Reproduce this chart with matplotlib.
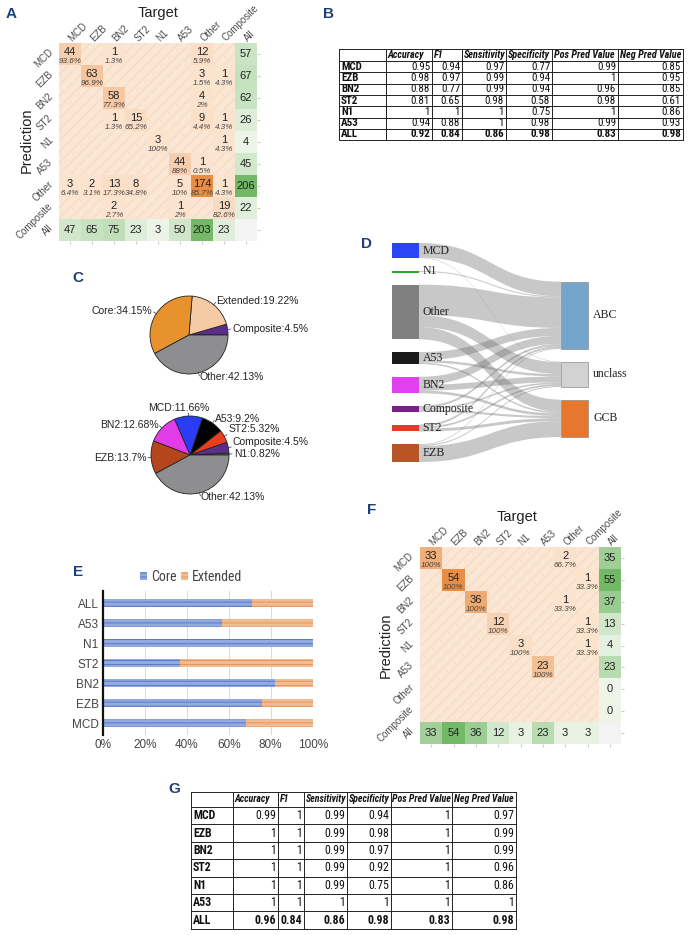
import numpy as np
import matplotlib
matplotlib.use('Agg')
import matplotlib.pyplot as plt
from matplotlib.patches import Rectangle, PathPatch, Patch
from matplotlib.path import Path
from matplotlib.colors import LinearSegmentedColormap, Normalize
from matplotlib import font_manager
from matplotlib.font_manager import FontProperties

# ---- data ----
classes = ['MCD', 'EZB', 'BN2', 'ST2', 'N1', 'A53', 'Other', 'Composite']

# rows = prediction, cols = target
conf_a = np.array([
    [44, 0, 1, 0, 0, 0, 12, 0],
    [0, 63, 0, 0, 0, 0, 3, 1],
    [0, 0, 58, 0, 0, 0, 4, 0],
    [0, 0, 1, 15, 0, 0, 9, 1],
    [0, 0, 0, 0, 3, 0, 0, 1],
    [0, 0, 0, 0, 0, 44, 1, 0],
    [3, 2, 13, 8, 0, 5, 174, 1],
    [0, 0, 2, 0, 0, 1, 0, 19],
])
conf_f = np.array([
    [33, 0, 0, 0, 0, 0, 2, 0],
    [0, 54, 0, 0, 0, 0, 0, 1],
    [0, 0, 36, 0, 0, 0, 1, 0],
    [0, 0, 0, 12, 0, 0, 0, 1],
    [0, 0, 0, 0, 3, 0, 0, 1],
    [0, 0, 0, 0, 0, 23, 0, 0],
    [0, 0, 0, 0, 0, 0, 0, 0],
    [0, 0, 0, 0, 0, 0, 0, 0],
])

metric_cols = ['Accuracy', 'F1', 'Sensitivity', 'Specificity', 'Pos Pred Value', 'Neg Pred Value']
metric_rows = ['MCD', 'EZB', 'BN2', 'ST2', 'N1', 'A53', 'ALL']
metrics_b = [
    [0.95, 0.94, 0.97, 0.77, 0.99, 0.85],
    [0.98, 0.97, 0.99, 0.94, 1, 0.95],
    [0.88, 0.77, 0.99, 0.94, 0.96, 0.85],
    [0.81, 0.65, 0.98, 0.58, 0.98, 0.61],
    [1, 1, 1, 0.75, 1, 0.86],
    [0.94, 0.88, 1, 0.98, 0.99, 0.93],
    [0.92, 0.84, 0.86, 0.98, 0.83, 0.98],
]
metrics_g = [
    [0.99, 1, 0.99, 0.94, 1, 0.97],
    [1, 1, 0.99, 0.98, 1, 0.99],
    [1, 1, 0.99, 0.97, 1, 0.99],
    [1, 1, 0.99, 0.92, 1, 0.96],
    [1, 1, 0.99, 0.75, 1, 0.86],
    [1, 1, 1, 1, 1, 1],
    [0.96, 0.84, 0.86, 0.98, 0.83, 0.98],
]

pie_top_labels = ['Composite', 'Extended', 'Core', 'Other']
pie_top_values = [4.5, 19.22, 34.15, 42.13]
pie_top_colors = ['#5c2e8c', '#f6caa4', '#e8922e', '#8e8e90']

pie_bot_labels = ['N1', 'Composite', 'ST2', 'A53', 'MCD', 'BN2', 'EZB', 'Other']
pie_bot_values = [0.82, 4.5, 5.32, 9.2, 11.66, 12.68, 13.7, 42.13]
pie_bot_colors = ['#2e9a2e', '#5c2e8c', '#e8401e', '#000000', '#2a3cf5', '#e23ce8', '#b5461c', '#8e8e90']
pie_bot_nudge = [0.0, 0.12, 0.12, 0.0, 0.0, 0.0, 0.0, 0.0]

sankey_src = ['MCD', 'N1', 'Other', 'A53', 'BN2', 'Composite', 'ST2', 'EZB']
sankey_src_colors = ['#2b44f5', '#2ea82a', '#808080', '#1a1a1a', '#e040f0', '#7a1f8a', '#e53a2a', '#b85526']
sankey_dst = ['ABC', 'unclass', 'GCB']
sankey_dst_colors = ['#76a5cb', '#d2d2d2', '#e8772e']
sankey_flows = np.array([
    [55, 2, 0],
    [4, 0, 0],
    [115, 45, 46],
    [30, 9, 6],
    [30, 22, 10],
    [8, 6, 8],
    [8, 7, 11],
    [3, 4, 60],
])

bar_cats = ['MCD', 'EZB', 'BN2', 'ST2', 'N1', 'A53', 'ALL']
core_pct = [68, 76, 82, 37, 100, 57, 71]

# ---- fonts / figure ----
plt.rcParams['font.family'] = ['Liberation Sans', 'DejaVu Sans']
plt.rcParams['hatch.linewidth'] = 0.6

# condensed sans (Arial Narrow look) for tables and legend, picked by file so bold works
cands = {}
for f in font_manager.fontManager.ttflist:
    if not ('Narrow' in f.name or 'Condensed' in f.name
            or f.stretch in ('condensed', 'semi-condensed', 'extra-condensed')):
        continue
    w = f.weight if isinstance(f.weight, int) else font_manager.weight_dict.get(f.weight, 400)
    if 600 <= w <= 800:
        wk = 'bold'
    elif 350 <= w < 600:
        wk = 'normal'
    else:
        continue
    sk = 'italic' if f.style in ('italic', 'oblique') else 'normal'
    cands.setdefault(f.name, {}).setdefault((wk, sk), f.fname)

narrow_files, narrow_scale = {}, 0.84
usable = [n for n, d in cands.items() if ('normal', 'normal') in d and ('bold', 'normal') in d]
for pref in ['Liberation Sans Narrow', 'Arial Narrow', 'Roboto Condensed', 'Noto Sans Condensed',
             'Open Sans Condensed', 'DejaVu Sans Condensed', 'DejaVu Sans']:
    if pref in usable:
        narrow_files = cands[pref]
        narrow_scale = 1.0 if pref in ('Liberation Sans Narrow', 'Arial Narrow', 'Roboto Condensed') else 0.9
        break
else:
    if usable:
        narrow_files, narrow_scale = cands[usable[0]], 0.95


def nfont(weight='normal', style='normal'):
    key = (weight, style)
    if key not in narrow_files and (weight, 'normal') in narrow_files:
        key = (weight, 'normal')
    if key in narrow_files:
        return FontProperties(fname=narrow_files[key]), narrow_scale
    return FontProperties(family='Liberation Sans', weight=weight, style=style), 0.84


W, H = 691, 935
fig = plt.figure(figsize=(W / 100, H / 100), dpi=100)
LETTER = '#1f3f7a'


def px_axes(x0, y0, x1, y1):
    return fig.add_axes([x0 / W, 1 - y1 / H, (x1 - x0) / W, (y1 - y0) / H])


def letter(x, y, s):
    fig.text(x / W, 1 - y / H, s, fontsize=11, fontweight='bold', color=LETTER,
             ha='center', va='center')


def fmt_pct(c, tot):
    s = f'{100 * c / tot:.1f}'
    if s.endswith('.0'):
        s = s[:-2]
    return s + '%'


oranges = LinearSegmentedColormap.from_list('or', ['#fbe4d0', '#e88d45'])
greens = LinearSegmentedColormap.from_list('gr', ['#edf5e9', '#72b866'])


def confusion_panel(rect, counts):
    n = len(classes)
    ax = px_axes(*rect)
    row_tot = counts.sum(1)
    col_tot = counts.sum(0)
    ax.set_xlim(0, n + 1)
    ax.set_ylim(n + 1, 0)
    ax.add_patch(Rectangle((0, 0), n, n, facecolor='#fbe6d4', edgecolor='#f1d8c3',
                           hatch='///', lw=0, zorder=0))
    ax.add_patch(Rectangle((n, n), 1, 1, facecolor='#f3f3f3', lw=0, zorder=0))
    body = np.ma.masked_equal(counts, 0)
    ax.pcolormesh(np.arange(n + 1), np.arange(n + 1), body, cmap=oranges,
                  norm=Normalize(0, counts.max()), zorder=1)
    tot = np.full((n + 1, n + 1), np.nan)
    tot[:n, n] = row_tot
    tot[n, :n] = col_tot
    ax.pcolormesh(np.arange(n + 2), np.arange(n + 2), np.ma.masked_invalid(tot),
                  cmap=greens, norm=Normalize(0, max(row_tot.max(), col_tot.max())), zorder=1)
    for i in range(n):
        for j in range(n):
            c = counts[i, j]
            if c:
                ax.text(j + 0.5, i + 0.42, str(c), ha='center', va='center', fontsize=8, color='#222')
                ax.text(j + 0.5, i + 0.86, fmt_pct(c, col_tot[j]), ha='center', va='center',
                        fontsize=5.8, style='italic', color='#444')
        ax.text(n + 0.5, i + 0.5, str(row_tot[i]), ha='center', va='center', fontsize=8, color='#222')
        ax.text(i + 0.5, n + 0.5, str(col_tot[i]), ha='center', va='center', fontsize=8, color='#222')
    labels = classes + ['All']
    for k, lab in enumerate(labels):
        ax.text(k + 0.5, -0.15, lab, rotation=45, rotation_mode='anchor', ha='left',
                va='center', fontsize=7, color='#4d4d4d')
        ax.text(-0.35, k + 0.35, lab, rotation=45, rotation_mode='anchor', ha='right',
                va='center', fontsize=7, color='#4d4d4d')
    ax.set_xticks(np.arange(n + 1) + 0.5)
    ax.set_yticks(np.arange(n + 1) + 0.5)
    ax.tick_params(labelbottom=False, labelleft=False, left=False, right=True,
                   length=2, color='#cccccc')
    for s in ax.spines.values():
        s.set_visible(False)
    return ax


def draw_table(x0, y0, col_w, header_h, row_h, values, fs_head, fs):
    tw = sum(col_w)
    th = header_h + row_h * len(metric_rows)
    ax = px_axes(x0, y0, x0 + tw, y0 + th)
    ax.set_xlim(0, tw)
    ax.set_ylim(th, 0)
    ax.axis('off')
    edges = np.concatenate([[0], np.cumsum(col_w)])
    for x in edges:
        ax.plot([x, x], [0, th], color='#222', lw=0.7, clip_on=False)
    ys = [0, header_h] + [header_h + row_h * (k + 1) for k in range(len(metric_rows))]
    for y in ys:
        ax.plot([0, tw], [y, y], color='#222', lw=0.7, clip_on=False)
    fp_head, sc_head = nfont('bold', 'italic')
    fp_bold, sc_bold = nfont('bold')
    fp_reg, sc_reg = nfont('normal')
    for c, name in enumerate(metric_cols):
        ax.text(edges[c + 1] + 1.5, header_h / 2, name, ha='left', va='center',
                fontproperties=fp_head, fontsize=fs_head * sc_head, color='#111')
    for r, name in enumerate(metric_rows):
        yc = header_h + row_h * (r + 0.5)
        ax.text(2, yc, name, ha='left', va='center', fontproperties=fp_bold,
                fontsize=fs * sc_bold, color='#111')
        fp, sc = (fp_bold, sc_bold) if name == 'ALL' else (fp_reg, sc_reg)
        for c, v in enumerate(values[r]):
            ax.text(edges[c + 2] - 2, yc, f'{v:g}', ha='right', va='center',
                    fontproperties=fp, fontsize=fs * max(sc, 0.92), color='#111')


def draw_pie(cx, cy, r, values, labels, colors, nudge):
    ax = px_axes(cx - r, cy - r, cx + r, cy + r)
    ax.pie(values, colors=colors, startangle=0, counterclock=True, radius=1,
           wedgeprops=dict(edgecolor='#222', linewidth=0.6))
    ax.set_xlim(-1, 1)
    ax.set_ylim(-1, 1)
    ax.set_aspect('equal')
    ang0 = 0
    for v, lab, nd in zip(values, labels, nudge):
        mid = np.deg2rad(ang0 + v * 3.6 / 2)
        ang0 += v * 3.6
        ca, sa = np.cos(mid), np.sin(mid)
        ax.plot([ca, 1.08 * ca], [sa, 1.08 * sa], color='#333', lw=0.5, clip_on=False)
        if abs(ca) < 0.2:
            ha = 'center'
        else:
            ha = 'left' if ca > 0 else 'right'
        ax.text(1.12 * ca - (0.25 if ha == 'center' else 0), 1.12 * sa + nd + (0.08 if sa > 0.9 else 0),
                f'{lab}:{v}%', ha=ha, va='center', fontsize=7.5, color='#222')


# ---- A ----
letter(11, 14, 'A')
axA = confusion_panel((59, 43, 257, 241), conf_a)
fig.text(158 / W, 1 - 13 / H, 'Target', ha='center', va='center', fontsize=10.5, color='#222')
fig.text(27 / W, 1 - 140 / H, 'Prediction', ha='center', va='center', fontsize=10.5,
         rotation=90, color='#222')

# ---- B ----
letter(328, 14, 'B')
draw_table(339, 49, [47, 46, 30, 44, 46, 66, 65], 12, 11.3, metrics_b, 7.3, 7.9)

# ---- C ----
letter(78, 278, 'C')
draw_pie(189, 335, 39, pie_top_values, pie_top_labels, pie_top_colors, [0] * 4)
draw_pie(190, 455, 39, pie_bot_values, pie_bot_labels, pie_bot_colors, pie_bot_nudge)

# ---- D ----
letter(367, 244, 'D')
axD = px_axes(380, 235, 650, 470)
nw = 0.16
gap = 48
left_tot = sankey_flows.sum(1)
right_tot = sankey_flows.sum(0)
ly = np.concatenate([[0], np.cumsum(left_tot)[:-1]]) + gap * np.arange(len(left_tot))
left_span = left_tot.sum() + gap * (len(left_tot) - 1)
right_span = right_tot.sum() + gap * (len(right_tot) - 1)
ry = (np.concatenate([[0], np.cumsum(right_tot)[:-1]]) + gap * np.arange(len(right_tot))
      + (left_span - right_span) / 2 + 26)
src_off = ly.astype(float).copy()
dst_off = ry.astype(float).copy()
for i in range(len(sankey_src)):
    for j in range(len(sankey_dst)):
        v = sankey_flows[i, j]
        if v == 0:
            continue
        ys0 = src_off[i]
        src_off[i] += v
        yt0 = dst_off[j]
        dst_off[j] += v
        x0, x1 = nw, 1.0
        xm = (x0 + x1) / 2
        verts = [(x0, ys0), (xm, ys0), (xm, yt0), (x1, yt0), (x1, yt0 + v),
                 (xm, yt0 + v), (xm, ys0 + v), (x0, ys0 + v), (x0, ys0)]
        codes = [Path.MOVETO, Path.CURVE4, Path.CURVE4, Path.CURVE4, Path.LINETO,
                 Path.CURVE4, Path.CURVE4, Path.CURVE4, Path.CLOSEPOLY]
        axD.add_patch(PathPatch(Path(verts, codes), facecolor='#707070', alpha=0.38, lw=0))
for i, name in enumerate(sankey_src):
    axD.add_patch(Rectangle((0, ly[i]), nw, max(left_tot[i], 8), facecolor=sankey_src_colors[i],
                            edgecolor='none', zorder=3))
    axD.text(nw + 0.02, ly[i] + left_tot[i] / 2, name, ha='left', va='center', fontsize=8.5,
             family=['Liberation Serif', 'DejaVu Serif'], color='#222', zorder=4)
for j, name in enumerate(sankey_dst):
    axD.add_patch(Rectangle((1.0, ry[j]), nw, right_tot[j], facecolor=sankey_dst_colors[j],
                            edgecolor='#8a8a8a', lw=0.5, zorder=3))
    axD.text(1.0 + nw + 0.03, ry[j] + right_tot[j] / 2, name, ha='left', va='center', fontsize=8.5,
             family=['Liberation Serif', 'DejaVu Serif'], color='#222', zorder=4)
axD.set_xlim(-0.071, 1.527)
axD.set_ylim(left_span + 30, -30)
axD.axis('off')

# ---- E ----
letter(78, 572, 'E')
axE = px_axes(102.7, 591, 312.7, 735)
ext_pct = [100 - c for c in core_pct]
yp = np.arange(len(bar_cats))
axE.barh(yp, core_pct, height=0.42, color='#93aae0', edgecolor='#4f72c6', hatch='----', lw=0)
axE.barh(yp, ext_pct, left=core_pct, height=0.42, color='#f1bc94', edgecolor='#e98c4e',
         hatch='----', lw=0)
axE.set_xlim(0, 100)
axE.set_ylim(-0.6, len(bar_cats) - 0.4)
axE.set_yticks(yp)
axE.set_yticklabels(bar_cats)
axE.set_xticks(range(0, 101, 20))
axE.set_xticklabels([f'{t}%' for t in range(0, 101, 20)])
axE.tick_params(length=0, labelsize=8.5, labelcolor='#444', pad=3)
axE.grid(axis='x', color='#d9d9d9', lw=0.7)
axE.set_axisbelow(True)
for s in ['top', 'right', 'bottom']:
    axE.spines[s].set_visible(False)
axE.spines['left'].set_linewidth(1.6)
axE.spines['left'].set_color('#111')
handles = [Patch(facecolor='#93aae0', edgecolor='#4f72c6', hatch='----', lw=0, label='Core'),
           Patch(facecolor='#f1bc94', edgecolor='#e98c4e', hatch='----', lw=0, label='Extended')]
fp_leg, sc_leg = nfont('normal')
fp_leg.set_size(10 * sc_leg)
axE.legend(handles=handles, loc='lower center', bbox_to_anchor=(0.42, 1.0), ncol=2, frameon=False,
           handlelength=0.5, handleheight=0.5, handletextpad=0.3, columnspacing=0.3,
           prop=fp_leg, labelcolor='#444', borderaxespad=0.1)

# ---- F ----
letter(372, 510, 'F')
axF = confusion_panel((420, 547, 621, 744), conf_f)
fig.text(517 / W, 1 - 517 / H, 'Target', ha='center', va='center', fontsize=10.5, color='#222')
fig.text(386 / W, 1 - 645 / H, 'Prediction', ha='center', va='center', fontsize=10.5,
         rotation=90, color='#222')

# ---- G ----
letter(174, 789, 'G')
draw_table(191, 792, [42, 45, 26, 43, 44, 61, 64], 15, 17.4, metrics_g, 7.1, 8.6)

fig.savefig('out.png', dpi=100)
